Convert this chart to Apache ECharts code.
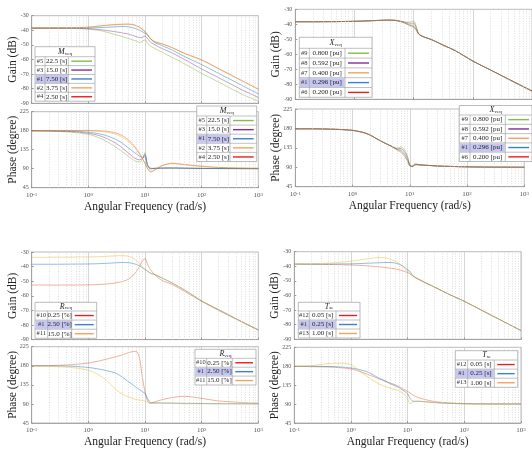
<!DOCTYPE html>
<html><head><meta charset="utf-8">
<script src="https://cdn.jsdelivr.net/npm/echarts@6/dist/echarts.min.js"></script>
<style>html,body{margin:0;padding:0;background:#fff}#c{width:532px;height:449px}</style>
</head><body><div id="c"></div>
<script>
// ---------- DATA ----------
const W = [0.1,0.2,0.5,1,1.5,2,3,4,5,6,7,8,9,10,11,12,13,15,20,30,50,100,200,500,1000];
const xTicks = [0.1,1,10,100,1000];
const gainTicks = [-90,-80,-70,-60,-50,-40,-30];
const phaseTicks = [45,90,135,180,225];

// Panel 1: M_veq
const M_names = ['#5','#3','#1','#2','#4'];
const M_vals  = ['22.5 [s]','15.0 [s]','7.50 [s]','3.75 [s]','2.50 [s]'];
const M_gain5 = [-38.5,-38.5,-38.6,-39.2,-40,-41,-43,-44.3,-45.5,-46.5,-47.3,-48.5,-47.5,-46.5,-48.5,-50.5,-51.2,-52.5,-55,-58.5,-63,-69.5,-75.5,-83.5,-88.5];
const M_gain3 = [-38.5,-38.5,-38.6,-38.9,-39.4,-40,-41,-41.8,-42.5,-43.5,-44.3,-45,-44.8,-44,-45.5,-47.5,-48.5,-50,-52.5,-55.5,-60,-66.5,-72.5,-80.5,-86];
const M_gain1 = [-38.5,-38.5,-38.5,-38.4,-38.2,-38,-37.6,-37.4,-37.6,-38.2,-39,-40,-41,-42,-43,-45,-46.5,-48.5,-50.5,-53.5,-58,-63.5,-69.5,-77.5,-83.5];
const M_gain2 = [-38.5,-38.5,-38.4,-38,-37.3,-36.8,-36.2,-36,-35.9,-36.2,-37,-38.2,-39.5,-41,-43,-45,-46.5,-48,-49.5,-52,-56,-60.5,-66.5,-74.5,-80.5];
const M_gain4 = [-38.5,-38.5,-38.3,-37.8,-37.1,-36.6,-36,-35.8,-35.7,-36,-36.7,-37.8,-39.2,-40.8,-42.8,-44.8,-46.3,-47.8,-49.2,-51.8,-55.8,-60.2,-66.2,-74.2,-80.2];
const M_ph5 = [179.5,179,176.5,171.5,164,156,142,130,120,112,107,106,112,128,100,93,91,90.5,90.5,90.5,90.5,90.5,90.3,90.2,90.1];
const M_ph3 = [179.7,179.4,178,174,169,163,151,139,128,119,113,111,114,124,100,92,90.5,91,91.5,91.5,91,90.5,90.3,90.2,90.1];
const M_ph1 = [180,179.8,179,176.5,173,169,160,150,140,132,125,120,117,119,98,90,89.5,91,92,92.5,92,91,90.5,90.2,90.1];
const M_ph2 = [180,180,180,179.5,178.5,177,172,164,155,145,135,124,113,103,92,85,84,88,98,102,99,95,93,91.5,91];
const M_ph4 = [180,180,180.3,180.5,180,179,175,168,159,149,138,126,114,103,91,84,83,87,97,103,100,96,93,91.5,91];

// Panel 2: X_veq
const X_names = ['#9','#8','#7','#1','#6'];
const X_vals  = ['0.800 [pu]','0.592 [pu]','0.400 [pu]','0.296 [pu]','0.200 [pu]'];
const X_gain9 = [-38.3,-38.3,-38.2,-38,-37.8,-37.6,-37.3,-37.2,-37.4,-37.9,-38.3,-38.6,-38.3,-37.8,-41,-45.8,-47.3,-48.5,-50.2,-53.5,-57.5,-64.5,-70.5,-78.5,-84.5];
const X_gain8 = [-38.3,-38.3,-38.2,-38,-37.8,-37.6,-37.3,-37.2,-37.4,-38,-38.5,-39.2,-39.3,-39.2,-42,-46,-47.3,-48.5,-50.2,-53.5,-57.5,-64.5,-70.5,-78.5,-84.5];
const X_gain7 = [-38.3,-38.3,-38.2,-38,-37.8,-37.6,-37.3,-37.2,-37.4,-38,-38.8,-39.6,-40.2,-40.6,-42.8,-46.1,-47.3,-48.5,-50.2,-53.5,-57.5,-64.5,-70.5,-78.5,-84.5];
const X_gain1 = [-38.3,-38.3,-38.2,-38,-37.8,-37.6,-37.3,-37.2,-37.4,-38.1,-39,-40,-40.8,-41.4,-43.3,-46.2,-47.3,-48.5,-50.2,-53.5,-57.5,-64.5,-70.5,-78.5,-84.5];
const X_gain6 = [-38.3,-38.3,-38.2,-38,-37.8,-37.6,-37.3,-37.2,-37.5,-38.2,-39.2,-40.3,-41.3,-42,-43.8,-46.3,-47.3,-48.5,-50.2,-53.5,-57.5,-64.5,-70.5,-78.5,-84.5];
const X_ph9 = [179,179,178,175.5,171,165,152,143.5,138,134,137,131,118,96,91,94,95.5,95.5,94.5,93,92,91,90.5,90.3,90.2];
const X_ph8 = [179,179,178,175.5,171,165,152,143.5,137.5,133,133.5,127,115,95,91.5,95,96,95.5,94.5,93,92,91,90.5,90.3,90.2];
const X_ph7 = [179,179,178,175.5,171,165,152,143.5,137.5,132,131,123,112,94,92,96,96.5,95.5,94.5,93,92,91,90.5,90.3,90.2];
const X_ph1 = [179,179,178,175.5,171,165,152,143.5,137.5,131,128.5,120,109,94,92,96.5,97,95.5,94.5,93,92,91,90.5,90.3,90.2];
const X_ph6 = [179,179,178,175.5,171,165,152,143.5,137,130,125,116,106,93,92.5,97,97.5,95.5,94.5,93,92,91,90.5,90.3,90.2];

// Panel 3: R_veq
const R_names = ['#10','#1','#11'];
const R_vals  = ['0.25 [%]','2.50 [%]','15.0 [%]'];
const R_gain10 = [-52.6,-52.6,-52.6,-52.5,-52.3,-52,-51.2,-50.2,-48.8,-46.5,-43.5,-40,-36,-34.5,-38,-41,-43,-45.8,-49.5,-52.2,-57,-63.8,-70,-77.8,-83.5];
const R_gain1  = [-38.4,-38.4,-38.3,-38.2,-38,-37.8,-37.4,-37.2,-37.3,-37.8,-38.5,-39.5,-40.7,-42,-43,-44,-44.8,-45.5,-47.8,-51.2,-56,-63.5,-69.5,-77.5,-83.3];
const R_gain11 = [-33.6,-33.6,-33.5,-33.4,-33.2,-33,-32.6,-32.5,-32.8,-34,-35.8,-38,-40.2,-42.2,-43.2,-44.1,-44.8,-45.5,-47.8,-51.2,-56,-63.5,-69.5,-77.5,-83.3];
const R_ph10 = [180,180.5,182.5,186.5,191,195,201,206,210.5,213.5,214,198,152,118,98,92,92.5,95,100,105,108,103,97,93.5,91.5];
const R_ph1  = [180,179.8,179,176,172.5,169,163,153,143,136,129,124,119,114.5,104,95,92.5,92.5,92.5,92,91.5,91,90.5,90.3,90.2];
const R_ph11 = [179,178.5,176,169.5,159,148,125,113,107,103,100.5,99,98,96.5,94,92,91.5,91,91,91,90.5,90.5,90.3,90.2,90.1];

// Panel 4: T_se
const T_names = ['#12','#1','#13'];
const T_vals  = ['0.05 [s]','0.25 [s]','1.00 [s]'];
const T_gain12 = [-38.5,-38.6,-38.8,-39.1,-39.4,-39.7,-40.3,-40.8,-41.3,-41.8,-42.3,-43,-43.6,-44.3,-45.2,-46.2,-47.2,-48.6,-51,-54.3,-58.6,-64,-70,-78,-84];
const T_gain1  = [-38.5,-38.5,-38.4,-38.3,-38.1,-37.9,-37.6,-37.4,-37.4,-37.8,-38.5,-39.6,-41,-42.5,-43.5,-45.8,-47,-48.5,-51,-54.3,-58.6,-64,-70,-78,-84];
const T_gain13 = [-38.5,-38.3,-37.6,-36.5,-35.5,-34.8,-34,-34.2,-35.2,-36.4,-37.8,-39.6,-41.5,-43.3,-45,-46.3,-47.3,-48.6,-51,-54.3,-58.6,-64,-70,-78,-84];
const T_ph12 = [179.5,179,177.5,173.5,166.5,160.5,151,144.5,140,136,132,127,123.5,120,116.5,113,110,106,101,96,93,91,90.4,90.2,90.1];
const T_ph1  = [180,179.8,179,176,171,166,153,145,138,133.5,129,124,119.5,114,104,98,96.5,96.5,95.5,93.5,92,90.8,90.4,90.2,90.1];
const T_ph13 = [180,181.5,187,184,166,154,139,132,127.5,124.5,121.5,117,112,104,91,93,96,97,96,93.5,92,90.8,90.4,90.2,90.1];

// ---------- STYLE / LAYOUT ----------
const LC = {green:'#77AC30',purple:'#7E2F8E',blue:'#0072BD',yellow:'#EDB120',red:'#D95319'};
const SW = {green:'#7cc04a',purple:'#7b2fa0',blue:'#3b7fd4',orange:'#f5a25a',red:'#ee1c1c'};
const FONT = 'Liberation Serif';

const grids = [
  {left:31.7, top:15.7, width:226.6, height:87.6},
  {left:31.7, top:111.7, width:226.6, height:76},
  {left:295.3, top:9.3, width:237, height:90},
  {left:295.3, top:109, width:237, height:77.7},
  {left:31.7, top:252, width:226.6, height:87.6},
  {left:31.7, top:346.7, width:226.6, height:77.3},
  {left:294.3, top:251.7, width:226.7, height:87.6},
  {left:294.3, top:347.3, width:226.7, height:76.7}
];

const panels = [
  {g:0, p:1, names:M_names, vals:M_vals, head:['M','veq'],
   gain:[M_gain5,M_gain3,M_gain1,M_gain2,M_gain4], ph:[M_ph5,M_ph3,M_ph1,M_ph2,M_ph4],
   lc:['green','purple','blue','yellow','red'], sw:['green','purple','blue','orange','red'], hl:2,
   lgG:{x:[35,45,68.3,95], top:46.7, hb:56.7, rh:8.9},
   lgP:{x:[196.7,206.7,230,256.7], top:106, hb:116, rh:9.1}},
  {g:2, p:3, names:X_names, vals:X_vals, head:['X','veq'],
   gain:[X_gain9,X_gain8,X_gain7,X_gain1,X_gain6], ph:[X_ph9,X_ph8,X_ph7,X_ph1,X_ph6],
   lc:['green','purple','yellow','blue','red'], sw:['green','purple','orange','blue','red'], hl:3,
   lgG:{x:[299.3,309.3,345,372], top:37.3, hb:48.3, rh:9.8},
   lgP:{x:[459.3,470,505.3,532], top:105.5, hb:115, rh:9.3}},
  {g:4, p:5, names:R_names, vals:R_vals, head:['R','veq'],
   gain:[R_gain10,R_gain1,R_gain11], ph:[R_ph10,R_ph1,R_ph11],
   lc:['red','blue','yellow'], sw:['red','blue','orange'], hl:1,
   lgG:{x:[35,47.7,71.7,96.7], top:302.3, hb:311, rh:9.1},
   lgP:{x:[195,206.7,232.3,256], top:349.3, hb:358.3, rh:8.9}},
  {g:6, p:7, names:T_names, vals:T_vals, head:['T','se'],
   gain:[T_gain12,T_gain1,T_gain13], ph:[T_ph12,T_ph1,T_ph13],
   lc:['red','blue','yellow'], sw:['red','blue','orange'], hl:1,
   lgG:{x:[298.3,309.3,336,360], top:302.3, hb:311, rh:9},
   lgP:{x:[455.3,467.7,494.3,517.7], top:350.7, hb:360, rh:9.1}}
];

const minorX = [];
for (let d = -1; d < 3; d++) for (let k = 2; k <= 9; k++) minorX.push(+(k * Math.pow(10, d)).toPrecision(3));

const xAxes = [], yAxes = [], series = [], graphics = [];
grids.forEach((gr, i) => {
  const isPhase = i % 2 === 1;
  xAxes.push({
    type:'log', logBase:10, gridIndex:i, min:0.1, max:1000,
    axisLine:{show:true, lineStyle:{color:'#999', width:0.8}},
    axisTick:{show:true, inside:true, length:2, lineStyle:{color:'#999'}},
    splitLine:{show:true, lineStyle:{color:'#cbcbcb', width:0.8}},
    axisLabel:{show:isPhase, margin:4, color:'#555',
      formatter:v => '{b|10}{s|' + Math.round(Math.log10(v)) + '}',
      rich:{b:{fontFamily:FONT, fontSize:7, color:'#555', verticalAlign:'bottom'},
            s:{fontFamily:FONT, fontSize:5, color:'#555', verticalAlign:'top'}}},
    name:isPhase ? 'Angular Frequency (rad/s)' : '', nameLocation:'middle', nameGap:13,
    nameMoveOverlap:false,
    nameTextStyle:{fontFamily:FONT, fontSize:11.5, color:'#222'}
  });
  const t = isPhase ? phaseTicks : gainTicks;
  yAxes.push({
    type:'value', gridIndex:i, min:t[0], max:t[t.length-1], interval:t[1]-t[0],
    axisLine:{show:true, lineStyle:{color:'#999', width:0.8}},
    axisTick:{show:true, inside:true, length:2, lineStyle:{color:'#999'}},
    splitLine:{show:false},
    axisLabel:{fontFamily:FONT, fontSize:6, color:'#555', margin:3},
    name:isPhase ? 'Phase (degree)' : 'Gain (dB)', nameLocation:'middle', nameGap:13,
    nameMoveOverlap:false,
    nameTextStyle:{fontFamily:FONT, fontSize:11.5, color:'#222'}
  });
  series.push({
    type:'line', xAxisIndex:i, yAxisIndex:i, data:[], silent:true, z:1,
    markLine:{silent:true, symbol:['none','none'], animation:false, label:{show:false},
      lineStyle:{color:'#d0d0d0', type:[1,1.5], width:0.7},
      data:minorX.map(v => ({xAxis:v}))}
  });
});

panels.forEach(pn => {
  [[pn.g, pn.gain], [pn.p, pn.ph]].forEach(([gi, arrs]) => {
    arrs.forEach((arr, k) => {
      series.push({
        type:'line', xAxisIndex:gi, yAxisIndex:gi, showSymbol:false, smooth:0.25,
        data:W.map((w, j) => [w, arr[j]]),
        lineStyle:{color:LC[pn.lc[k]], width:0.9, opacity:0.5}, z:3, silent:true
      });
    });
  });
  [pn.lgG, pn.lgP].forEach(lg => {
    const x = lg.x, n = pn.names.length, bottom = lg.hb + n * lg.rh;
    const add = e => { e.z = 100; graphics.push(e); };
    add({type:'rect', shape:{x:x[0], y:lg.top, width:x[3]-x[0], height:bottom-lg.top},
         style:{fill:'#fff', stroke:'#aaa', lineWidth:0.8}});
    const hy = lg.hb + pn.hl * lg.rh;
    add({type:'rect', shape:{x:x[0]+0.5, y:hy+0.5, width:x[2]-x[0]-1, height:lg.rh-1},
         style:{fill:'#c6c6f3'}});
    add({type:'line', shape:{x1:x[0], y1:lg.hb, x2:x[3], y2:lg.hb}, style:{stroke:'#999', lineWidth:0.6}});
    for (let r = 1; r < n; r++) {
      const yy = lg.hb + r * lg.rh;
      add({type:'line', shape:{x1:x[0], y1:yy, x2:x[3], y2:yy}, style:{stroke:'#999', lineWidth:0.6}});
    }
    add({type:'line', shape:{x1:x[1], y1:lg.hb, x2:x[1], y2:bottom}, style:{stroke:'#999', lineWidth:0.6}});
    add({type:'line', shape:{x1:x[2], y1:lg.hb, x2:x[2], y2:bottom}, style:{stroke:'#999', lineWidth:0.6}});
    add({type:'text', x:(x[0]+x[3])/2, y:(lg.top+lg.hb)/2,
         style:{text:'{v|' + pn.head[0] + '}{s|' + pn.head[1] + '}', align:'center', verticalAlign:'middle',
           rich:{v:{fontFamily:FONT, fontStyle:'italic', fontSize:8, fill:'#222', verticalAlign:'top'},
                 s:{fontFamily:FONT, fontSize:5, fill:'#222', verticalAlign:'bottom'}}}});
    for (let r = 0; r < n; r++) {
      const cy = lg.hb + (r + 0.5) * lg.rh;
      add({type:'text', x:(x[0]+x[1])/2, y:cy,
           style:{text:pn.names[r], fontFamily:FONT, fontSize:6.5, fill:'#333', align:'center', verticalAlign:'middle'}});
      add({type:'text', x:(x[1]+x[2])/2, y:cy,
           style:{text:pn.vals[r], fontFamily:FONT, fontSize:7, fill:'#222', align:'center', verticalAlign:'middle'}});
      add({type:'line', shape:{x1:x[2]+3, y1:cy, x2:x[3]-3, y2:cy},
           style:{stroke:SW[pn.sw[r]], lineWidth:1.4}});
    }
  });
});

const chart = echarts.init(document.getElementById('c'), null, {renderer:'canvas'});
chart.setOption({
  animation:false,
  backgroundColor:'#fff',
  grid:grids.map(g => Object.assign({show:true, borderColor:'#aaa', borderWidth:0.8, backgroundColor:'transparent'}, g)),
  xAxis:xAxes, yAxis:yAxes, series:series, graphic:graphics
});
</script></body></html>
